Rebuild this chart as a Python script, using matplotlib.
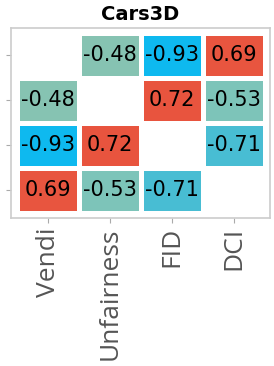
import numpy as np
import matplotlib
matplotlib.use('Agg')
import matplotlib.pyplot as plt
from matplotlib.colors import LinearSegmentedColormap

# metric names and pairwise correlations (diagonal left blank)
metrics = ['Vendi', 'Unfairness', 'FID', 'DCI']
corr = [[np.nan, -0.48, -0.93, 0.69],
        [-0.48, np.nan, 0.72, -0.53],
        [-0.93, 0.72, np.nan, -0.71],
        [0.69, -0.53, -0.71, np.nan]]
title = 'Cars3D'

vals = np.ma.masked_invalid(np.array(corr))

# colour ramp, from -1 to +1
cmap = LinearSegmentedColormap.from_list('corr', [
    (0.000, '#00b8f5'),
    (0.035, '#10b9ee'),
    (0.145, '#48bdd3'),
    (0.235, '#7dc4b9'),
    (0.260, '#86c3b2'),
    (0.500, '#c4a58a'),
    (0.845, '#e8553f'),
    (1.000, '#e84a3a'),
])

fig = plt.figure(figsize=(2.74, 3.66), dpi=100)
ax = fig.add_axes([0.040, 0.404, 0.945, 0.519])

n = len(metrics)
edges = np.arange(n + 1) - 0.5
ax.pcolormesh(edges, edges, vals, cmap=cmap, vmin=-1, vmax=1,
              edgecolor='white', linewidth=3.5)

for i in range(n):
    for j in range(n):
        if not np.isnan(corr[i][j]):
            ax.text(j, i, '%.2f' % corr[i][j], ha='center', va='center',
                    fontsize=15, color='black')

ax.set_xlim(-0.6, 3.58)
ax.set_ylim(3.62, -0.6)

ax.set_xticks(range(n))
ax.set_xticklabels(metrics, rotation=90, fontsize=19, color='#555555',
                   family=['Open Sans', 'DejaVu Sans'])
ax.set_yticks(range(n))
ax.set_yticklabels([''] * n)
ax.tick_params(length=3.5, width=0.8, color='#aaaaaa', pad=3)

for s in ax.spines.values():
    s.set_color('#cccccc')
    s.set_linewidth(1.2)

ax.set_title(title, fontsize=14, fontweight='bold', pad=6)

fig.savefig('out.png', dpi=100)
